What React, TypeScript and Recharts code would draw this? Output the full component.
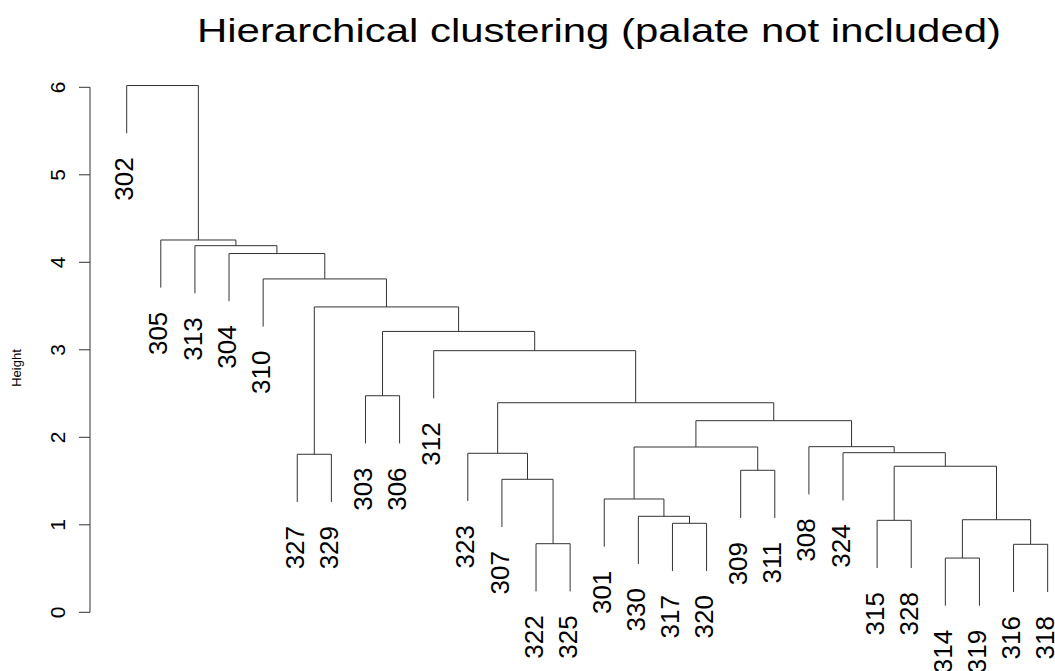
import { ComposedChart, Line, Scatter, XAxis, YAxis, ReferenceLine } from "recharts";

// leaf order as drawn, left to right
const leafLabels = [
  "302", "305", "313", "304", "310", "327", "329", "303", "306", "312",
  "323", "307", "322", "325", "301", "330", "317", "320", "309", "311",
  "308", "324", "315", "328", "314", "319", "316", "318",
];

// merge steps (like hclust$merge): a leaf label, or "mK" = result of step K
const mergeLeft = [
  "314", "316", "322", "317", "315", "m0", "330", "301", "307", "309",
  "m4", "327", "323", "324", "m7", "308", "m14", "m12", "303", "312",
  "m18", "m11", "310", "304", "313", "305", "302",
];
const mergeRight = [
  "319", "318", "325", "320", "328", "m1", "m3", "m6", "m2", "311",
  "m5", "329", "m8", "m10", "m9", "m13", "m15", "m16", "306", "m17",
  "m19", "m20", "m21", "m22", "m23", "m24", "m25",
];
const mergeHeights = [
  0.62, 0.777, 0.784, 1.017, 1.051, 1.058, 1.097, 1.295, 1.52, 1.623,
  1.669, 1.806, 1.817, 1.824, 1.889, 1.893, 2.19, 2.395, 2.475, 2.99,
  3.21, 3.49, 3.81, 4.1, 4.19, 4.255, 6.02,
];

const yTicks = [0, 1, 2, 3, 4, 5, 6];
const titleText = "Hierarchical clustering (palate not included)";
const yLabelText = "Height";

const HANG = 0.545;
const X_MIN = -1.076;
const X_MAX = 27.215;
const Y_MIN = -0.3166;
const Y_MAX = 6.312;
const INK = "#333";
const FONT = "'Liberation Sans', Arial, Helvetica, sans-serif";

// walk the merges to get the U-shaped links and the hanging leaves
const nodeX: number[] = [];
const links: { x: number; y: number | null }[] = [];
const leafPoints: { x: number; y: number; label: string }[] = [];

const childPos = (ref: string, parentH: number) => {
  if (ref.startsWith("m")) {
    const k = Number(ref.slice(1));
    return { x: nodeX[k], y: mergeHeights[k] };
  }
  const i = leafLabels.indexOf(ref);
  const y = parentH - HANG;
  leafPoints.push({ x: i, y, label: ref });
  return { x: i, y };
};

mergeHeights.forEach((h, k) => {
  const a = childPos(mergeLeft[k], h);
  const b = childPos(mergeRight[k], h);
  nodeX[k] = (a.x + b.x) / 2;
  links.push(
    { x: a.x, y: a.y },
    { x: a.x, y: h },
    { x: b.x, y: h },
    { x: b.x, y: b.y },
    { x: b.x, y: null }
  );
});

const LeafLabel = (p: any) => {
  const x = p.cx;
  const y = p.cy + 24;
  return (
    <text
      x={x}
      y={y}
      dy={6.6}
      transform={`rotate(-90 ${x} ${y})`}
      textAnchor="end"
      fontSize={26}
      fontFamily={FONT}
      fill="#000"
    >
      {p.payload.label}
    </text>
  );
};

const YTick = (p: any) => {
  const x = p.x - 14;
  const y = p.y;
  return (
    <text
      x={x}
      y={y}
      transform={`rotate(-90 ${x} ${y})`}
      textAnchor="middle"
      fontSize={21}
      fontFamily={FONT}
      fill="#000"
    >
      {p.payload.value}
    </text>
  );
};

export default function App() {
  return (
    <div style={{ position: "absolute", left: 0, top: 0, width: 1055, height: 671, background: "#fff" }}>
      <ComposedChart width={1055} height={671} margin={{ top: 60, right: 0, bottom: 31, left: 0 }}>
        <XAxis dataKey="x" type="number" domain={[X_MIN, X_MAX]} hide />
        <YAxis
          type="number"
          domain={[Y_MIN, Y_MAX]}
          ticks={yTicks}
          interval={0}
          width={90}
          tickSize={11}
          tickMargin={0}
          axisLine={false}
          tickLine={{ stroke: INK }}
          tick={YTick}
        />
        <ReferenceLine
          segment={[{ x: X_MIN, y: 0 }, { x: X_MIN, y: 6 }]}
          stroke={INK}
          ifOverflow="visible"
        />
        <Line
          data={links}
          dataKey="y"
          type="linear"
          stroke={INK}
          strokeWidth={1}
          dot={false}
          activeDot={false}
          connectNulls={false}
          isAnimationActive={false}
        />
        <Scatter data={leafPoints} dataKey="y" shape={LeafLabel} isAnimationActive={false} />
      </ComposedChart>
      <svg
        width={1055}
        height={671}
        style={{ position: "absolute", left: 0, top: 0, pointerEvents: "none" }}
      >
        <text
          x={599}
          y={42}
          textAnchor="middle"
          fontSize={34}
          fontFamily={FONT}
          textLength={804}
          lengthAdjust="spacingAndGlyphs"
          fill="#000"
        >
          {titleText}
        </text>
        <text
          x={21}
          y={368}
          transform="rotate(-90 21 368)"
          textAnchor="middle"
          fontSize={13}
          fontFamily={FONT}
          fill="#000"
        >
          {yLabelText}
        </text>
      </svg>
    </div>
  );
}
